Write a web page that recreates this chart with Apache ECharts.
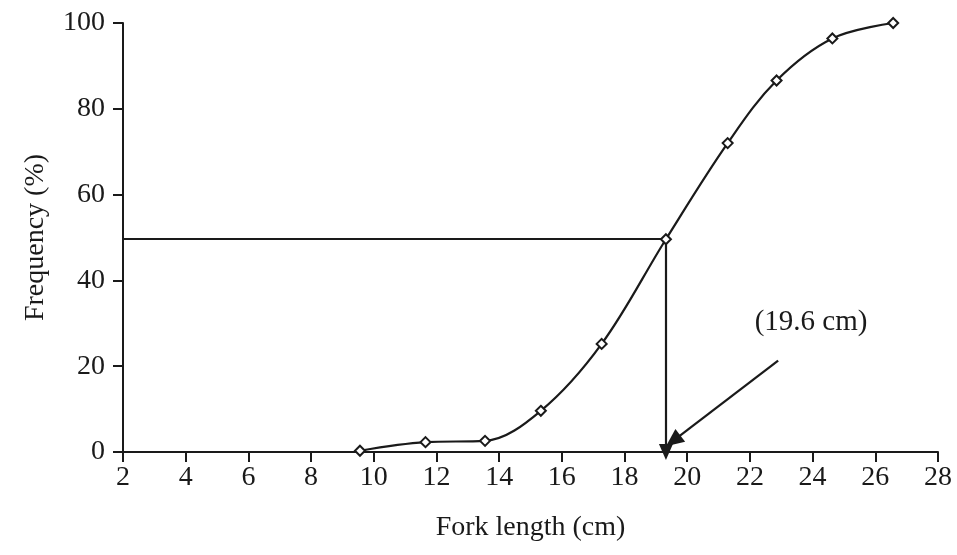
<!DOCTYPE html>
<html>
<head>
<meta charset="utf-8">
<script src="https://cdn.jsdelivr.net/npm/echarts@6/dist/echarts.min.js"></script>
<style>
  html, body { margin: 0; padding: 0; background: #fff; }
  #chart { width: 957px; height: 555px; }
</style>
</head>
<body>
<div id="chart"></div>
<script>
// Cumulative maturity frequency by fork length
const forkLength = [9.56, 11.65, 13.55, 15.33, 17.27, 19.32, 21.29, 22.85, 24.63, 26.57];
const frequency  = [0.3, 2.3, 2.6, 9.6, 25.2, 49.6, 72.0, 86.6, 96.4, 100];

// L50 guide lines and annotation
const l50Point = [19.32, 49.6];
const pointerStart = [22.9, 21.3];
const pointerEnd = [19.55, 2.6];
const l50LabelPos = [23.95, 29.6];
const l50LabelText = '(19.6 cm)';

const xTicks = { min: 2, max: 28, step: 2 };
const yTicks = { min: 0, max: 100, step: 20 };

const font = 'Liberation Serif, Times New Roman, serif';
const ink = '#1a1a1a';

const chart = echarts.init(document.getElementById('chart'), null, { renderer: 'canvas' });

chart.setOption({
  animation: false,
  backgroundColor: '#fff',
  grid: { left: 123, right: 19, top: 23, bottom: 103 },
  xAxis: {
    type: 'value',
    min: xTicks.min, max: xTicks.max, interval: xTicks.step,
    name: 'Fork length (cm)',
    nameLocation: 'middle',
    nameGap: 62,
    nameTextStyle: { fontFamily: font, fontSize: 28, color: ink },
    axisLine: { show: true, onZero: false, lineStyle: { color: ink, width: 2 } },
    axisTick: { show: true, inside: false, length: 10, lineStyle: { color: ink, width: 2 } },
    axisLabel: { fontFamily: font, fontSize: 28, color: ink, margin: 12 },
    splitLine: { show: false }
  },
  yAxis: {
    type: 'value',
    min: yTicks.min, max: yTicks.max, interval: yTicks.step,
    name: 'Frequency (%)',
    nameLocation: 'middle',
    nameGap: 73,
    nameRotate: 90,
    nameTextStyle: { fontFamily: font, fontSize: 28, color: ink },
    axisLine: { show: true, onZero: false, lineStyle: { color: ink, width: 2 } },
    axisTick: { show: true, inside: false, length: 10, lineStyle: { color: ink, width: 2 } },
    axisLabel: { fontFamily: font, fontSize: 28, color: ink, margin: 18 },
    splitLine: { show: false }
  },
  series: [
    {
      type: 'line',
      clip: false,
      data: forkLength.map((x, i) => [x, frequency[i]]),
      smooth: 0.35,
      symbol: 'emptyDiamond',
      symbolSize: 10,
      showAllSymbol: true,
      lineStyle: { color: ink, width: 2.2 },
      itemStyle: { color: ink, borderWidth: 1.6 },
      z: 5,
      markLine: {
        silent: true,
        animation: false,
        label: { show: false },
        lineStyle: { color: ink, width: 2.2, type: 'solid' },
        data: [
          [
            { coord: [xTicks.min, l50Point[1]], symbol: 'none' },
            { coord: l50Point, symbol: 'none' }
          ],
          [
            { coord: l50Point, symbol: 'none' },
            { coord: [l50Point[0], 0], symbol: 'triangle', symbolSize: [14, 16] }
          ],
          [
            { coord: pointerStart, symbol: 'none' },
            { coord: pointerEnd, symbol: 'triangle', symbolSize: [16, 18] }
          ]
        ]
      }
    },
    {
      type: 'scatter',
      silent: true,
      symbol: 'rect',
      symbolSize: 1,
      itemStyle: { opacity: 0 },
      data: [l50LabelPos],
      label: {
        show: true,
        position: 'top',
        distance: -12,
        formatter: l50LabelText,
        fontFamily: font,
        fontSize: 29,
        color: ink,
        opacity: 1
      },
      z: 6
    }
  ]
});
</script>
</body>
</html>
